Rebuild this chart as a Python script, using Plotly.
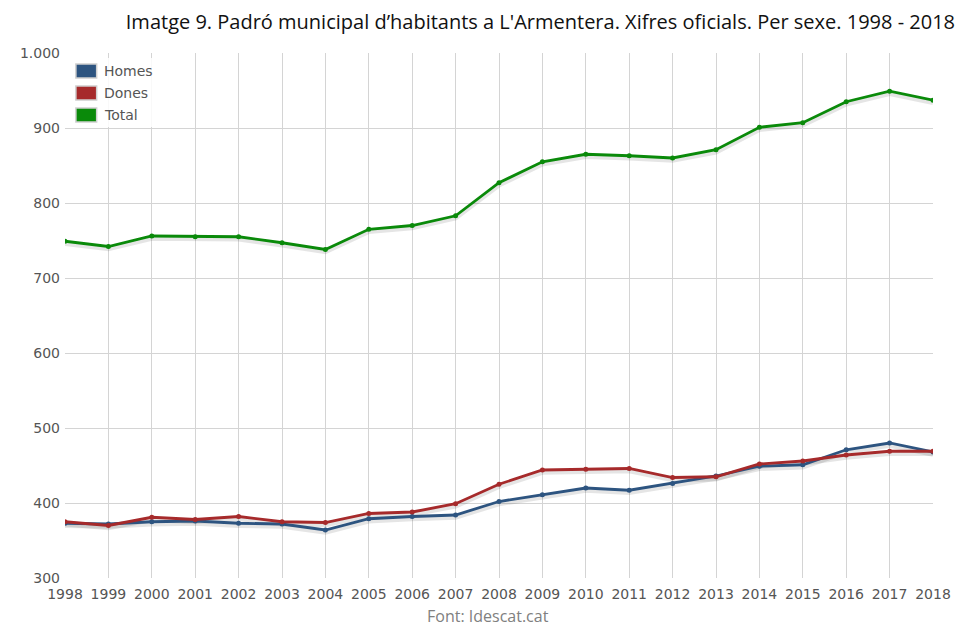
import plotly.graph_objects as go

years = list(range(1998, 2019))
homes = [373, 372, 375, 376, 373, 372, 364, 379, 382, 384, 402, 411, 420, 417, 426, 436, 449, 451, 471, 480, 468]
dones = [375, 370, 381, 378, 382, 375, 374, 386, 388, 399, 425, 444, 445, 446, 434, 435, 452, 456, 464, 469, 469]
total = [749, 742, 756, 755, 755, 747, 738, 765, 770, 783, 827, 855, 865, 863, 860, 871, 901, 907, 935, 949, 937]
series_names = ["Homes", "Dones", "Total"]
colors = ["#2d5480", "#a62a2b", "#0a8a0a"]
y_ticks = [300, 400, 500, 600, 700, 800, 900, 1000]

OFF = 8  # page body margin
W, H = 963 - OFF, 629 - OFF
L, R, T, B = 60 - OFF, 937 - OFF, 53 - OFF, 578 - OFF

fig = go.Figure()
for vals in [homes, dones, total]:
    fig.add_trace(go.Scatter(x=years, y=[v - 3 for v in vals], mode="lines",
                             line=dict(color="rgba(0,0,0,0.10)", width=5),
                             hoverinfo="skip", showlegend=False))
for vals, name, col in zip([homes, dones, total], series_names, colors):
    fig.add_trace(go.Scatter(x=years, y=vals, mode="lines+markers", name=name,
                             line=dict(color=col, width=2.8),
                             marker=dict(color=col, size=5), showlegend=False))

def px(xp):
    return (xp - OFF - L) / (R - L)

def py(yp):
    return (B - (yp - OFF)) / (B - T)

shapes = [dict(type="rect", xref="paper", yref="paper", x0=px(65), x1=px(152), y0=py(127), y1=py(58),
               fillcolor="rgba(255,255,255,0.85)", line=dict(width=0), layer="above")]
annotations = []
for i, (name, col) in enumerate(zip(series_names, colors)):
    cy = 71 + 22 * i
    shapes.append(dict(type="rect", xref="paper", yref="paper", x0=px(71), x1=px(92),
                       y0=py(cy + 7), y1=py(cy - 7), fillcolor=col,
                       line=dict(color="#d0d0d0", width=1.5), layer="above"))
    annotations.append(dict(xref="paper", yref="paper", x=px(97), y=py(cy), text=name,
                            showarrow=False, xanchor="left", yanchor="middle",
                            font=dict(family="DejaVu Sans", size=14, color="#555555")))

annotations.append(dict(xref="paper", yref="paper", x=px(487), y=py(616), text="Font: Idescat.cat",
                        showarrow=False, xanchor="center", yanchor="middle",
                        font=dict(family="Open Sans", size=16, color="#808080")))

fig.update_layout(
    width=W, height=H,
    margin=dict(l=L, r=W - R, t=T, b=H - B),
    paper_bgcolor="white", plot_bgcolor="white",
    separators=",.",
    title=dict(text="Imatge 9. Padró municipal d’habitants a L'Armentera. Xifres oficials. Per sexe. 1998 - 2018",
               x=(955 - OFF) / W, xanchor="right", xref="container", y=1 - (22 - OFF) / H, yref="container",
               yanchor="middle", font=dict(family="Open Sans", size=20, color="#111111")),
    xaxis=dict(range=[1998, 2018], tickmode="array", tickvals=years, ticktext=[str(y) for y in years],
               showgrid=True, gridcolor="#d4d4d4", gridwidth=1, zeroline=False, ticklabelstandoff=6,
               showline=False, tickfont=dict(family="DejaVu Sans", size=14, color="#555555")),
    yaxis=dict(range=[300, 1000], tickmode="array", tickvals=y_ticks, tickformat=",d",
               showgrid=True, gridcolor="#d4d4d4", gridwidth=1, zeroline=False, ticklabelstandoff=4,
               showline=False, tickfont=dict(family="DejaVu Sans", size=14, color="#555555")),
    shapes=shapes, annotations=annotations, showlegend=False,
)

fig.write_html("out.html")
